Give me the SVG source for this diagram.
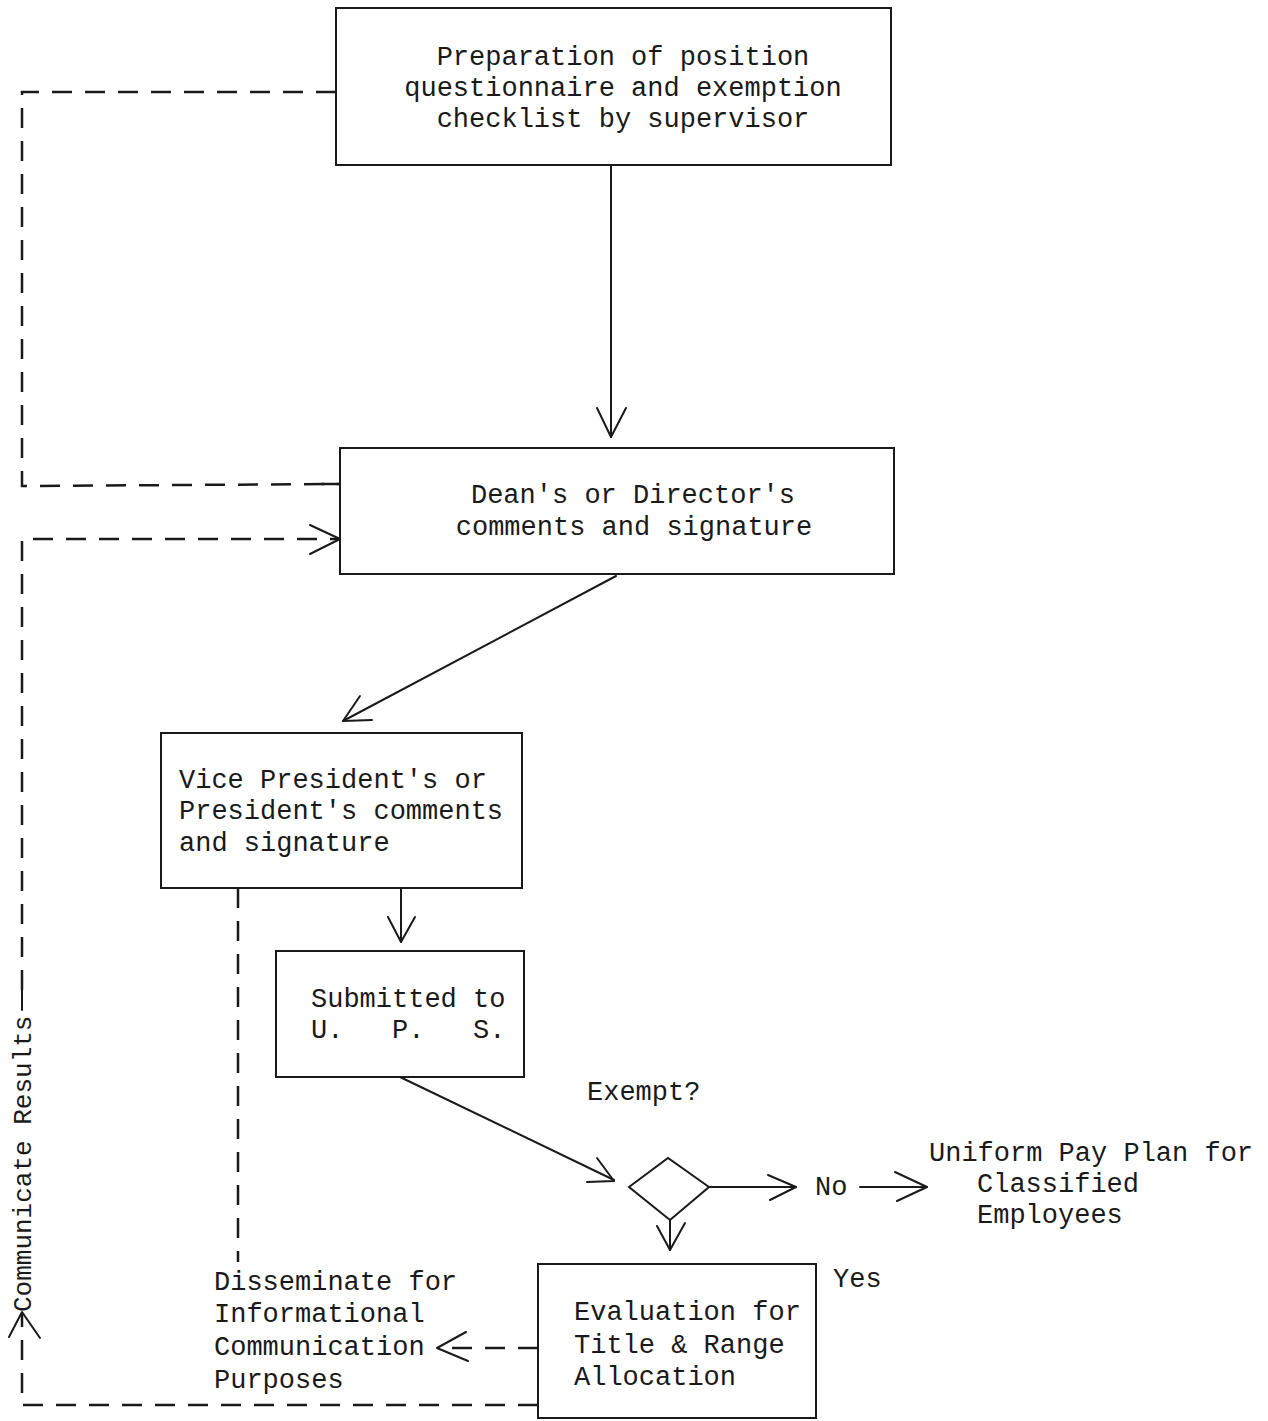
<svg xmlns="http://www.w3.org/2000/svg" width="1268" height="1421" viewBox="0 0 1268 1421">
<style>
.box{fill:#fff;stroke:#1a1a1a;stroke-width:2}
.t{font-family:"Liberation Mono","DejaVu Sans Mono",monospace;font-size:27px;fill:#1a1a1a;white-space:pre}
.c{text-anchor:middle}
.ln{fill:none;stroke:#1a1a1a;stroke-width:2;stroke-linecap:round;stroke-linejoin:round}
.d{fill:none;stroke:#1a1a1a;stroke-width:2.5;stroke-dasharray:20 13}
</style>
<rect width="1268" height="1421" fill="#fff"/>
<g id="connectors">
  <line class="ln" x1="611" y1="165" x2="611" y2="437"/>
  <polyline class="ln" points="597,408 611,437 626,408"/>
  <line class="ln" x1="616" y1="576" x2="343" y2="721"/>
  <polyline class="ln" points="360,696 343,721 372,720"/>
  <line class="ln" x1="401" y1="888" x2="401" y2="942"/>
  <polyline class="ln" points="388,917 401,942 415,917"/>
  <line class="ln" x1="400" y1="1077" x2="614" y2="1180"/>
  <polyline class="ln" points="597,1158 614,1181 587,1182"/>
  <line class="ln" x1="709" y1="1187" x2="796" y2="1187"/>
  <polyline class="ln" points="768,1175 796,1187 770,1200"/>
  <line class="ln" x1="860" y1="1187" x2="927" y2="1187"/>
  <polyline class="ln" points="895,1172 927,1187 897,1201"/>
  <line class="ln" x1="670" y1="1220" x2="670" y2="1250"/>
  <polyline class="ln" points="657,1226 670,1250 685,1223"/>
  <line class="d" x1="538" y1="1348" x2="440" y2="1348"/>
  <polyline class="ln" points="466,1332 437,1348 468,1361"/>
  <line class="d" x1="238" y1="888" x2="238" y2="1262"/>
  <polyline class="d" points="336,92 22,92 22,486 340,484"/>
  <line class="ln" x1="322" y1="484" x2="340" y2="484" style="stroke-width:2.5"/>
  <polyline class="d" points="538,1405 22,1405 22,1314"/>
  <polyline class="ln" points="9,1337 22,1312 40,1338"/>
  <line class="ln" x1="22" y1="1010" x2="22" y2="990"/>
  <polyline class="d" points="22,990 22,539 338,539"/>
  <polyline class="ln" points="310,525 340,539 310,554"/>
</g>
<g id="n1">
  <rect class="box" x="336" y="8" width="555" height="157"/>
  <text class="t c" x="623" y="65">Preparation of position</text>
  <text class="t c" x="623" y="96">questionnaire and exemption</text>
  <text class="t c" x="623" y="127">checklist by supervisor</text>
</g>
<g id="n2">
  <rect class="box" x="340" y="448" width="554" height="126"/>
  <text class="t c" x="633" y="503">Dean's or Director's</text>
  <text class="t c" x="634" y="535">comments and signature</text>
</g>
<g id="n3">
  <rect class="box" x="161" y="733" width="361" height="155"/>
  <text class="t" x="179" y="788">Vice President's or</text>
  <text class="t" x="179" y="819">President's comments</text>
  <text class="t" x="179" y="851">and signature</text>
</g>
<g id="n4">
  <rect class="box" x="276" y="951" width="248" height="126"/>
  <text class="t" x="311" y="1007">Submitted to</text>
  <text class="t" x="311" y="1038">U.   P.   S.</text>
</g>
<g id="n5">
  <polygon class="box" points="629,1187 668,1158 709,1187 670,1220"/>
  <text class="t" x="587" y="1100">Exempt?</text>
</g>
<g id="n6">
  <text class="t" x="815" y="1195">No</text>
</g>
<g id="n7">
  <text class="t" x="929" y="1161">Uniform Pay Plan for</text>
  <text class="t" x="977" y="1192">Classified</text>
  <text class="t" x="977" y="1223">Employees</text>
</g>
<g id="n8">
  <rect class="box" x="538" y="1264" width="278" height="154"/>
  <text class="t" x="574" y="1320">Evaluation for</text>
  <text class="t" x="574" y="1353">Title &amp; Range</text>
  <text class="t" x="574" y="1385">Allocation</text>
  <text class="t" x="833" y="1287">Yes</text>
</g>
<g id="n9">
  <text class="t" x="214" y="1290">Disseminate for</text>
  <text class="t" x="214" y="1322">Informational</text>
  <text class="t" x="214" y="1355">Communication</text>
  <text class="t" x="214" y="1388">Purposes</text>
</g>
<g id="n10">
  <text class="t" transform="translate(31,1312) rotate(-90)" style="font-size:26px">Communicate Results</text>
</g>
</svg>
